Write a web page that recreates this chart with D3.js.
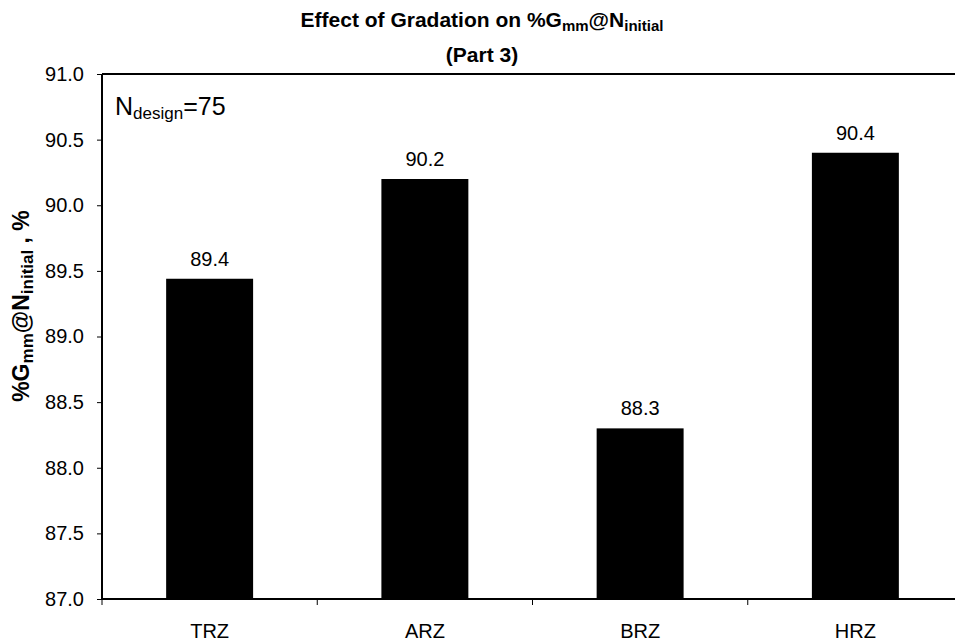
<!DOCTYPE html>
<html>
<head>
<meta charset="utf-8">
<script src="https://cdn.jsdelivr.net/npm/d3@7"></script>
<style>
  body { margin: 0; background: #fff; }
  text { font-family: "Liberation Sans", Arial, sans-serif; }
</style>
</head>
<body>
<div id="chart"></div>
<script>
// gradation categories and %Gmm @ Ninitial values
var categories = ["TRZ", "ARZ", "BRZ", "HRZ"];
var values = [89.44, 90.2, 88.3, 90.4];
var yTicks = [87.0, 87.5, 88.0, 88.5, 89.0, 89.5, 90.0, 90.5, 91.0];

var width = 955, height = 643;
var margin = { top: 74, right: -8, bottom: 44, left: 102 };

var svg = d3.select("#chart")
	.append("svg")
	.attr("width", width)
	.attr("height", height);

var x = d3.scaleBand()
	.domain(categories)
	.range([margin.left, width - margin.right])
	.paddingInner(0.596)
	.paddingOuter(0.298);

var y = d3.scaleLinear()
	.domain([87, 91])
	.range([height - margin.bottom, margin.top]);

var fmt = d3.format(".1f");

// bars
svg.selectAll("rect.bar")
	.data(values)
	.enter()
	.append("rect")
	.attr("class", "bar")
	.attr("x", function(d, i) { return x(categories[i]); })
	.attr("y", function(d) { return y(d); })
	.attr("width", x.bandwidth())
	.attr("height", function(d) { return y(87) - y(d); })
	.attr("fill", "#000");

// value labels
svg.selectAll("text.val")
	.data(values)
	.enter()
	.append("text")
	.attr("class", "val")
	.attr("x", function(d, i) { return x(categories[i]) + x.bandwidth() / 2; })
	.attr("y", function(d) { return y(d) - 13; })
	.attr("text-anchor", "middle")
	.attr("font-size", "20px")
	.text(function(d) { return fmt(d); });

// y axis
var yAxis = svg.append("g")
	.attr("transform", "translate(" + margin.left + ",0)")
	.call(d3.axisLeft(y).tickValues(yTicks).tickFormat(fmt).tickSize(5).tickPadding(13));
yAxis.select(".domain").attr("stroke-width", 2).attr("d", "M0," + y(87) + "V" + y(91));
yAxis.selectAll("text").attr("font-size", "20px").attr("fill", "#000")
	.style("font-family", "'Liberation Sans', Arial, sans-serif");

// x axis, ticks sit between categories
var xAxis = svg.append("g")
	.attr("transform", "translate(0," + y(87) + ")");
xAxis.append("line")
	.attr("x1", margin.left).attr("x2", width - margin.right)
	.attr("stroke", "#000").attr("stroke-width", 2);
var step = x.step();
xAxis.selectAll("line.tick")
	.data(categories)
	.enter()
	.append("line")
	.attr("class", "tick")
	.attr("x1", function(d) { return x(d) + x.bandwidth() / 2 - step / 2; })
	.attr("x2", function(d) { return x(d) + x.bandwidth() / 2 - step / 2; })
	.attr("y1", 0).attr("y2", 6)
	.attr("stroke", "#000");
xAxis.selectAll("text")
	.data(categories)
	.enter()
	.append("text")
	.attr("x", function(d) { return x(d) + x.bandwidth() / 2; })
	.attr("y", 39)
	.attr("text-anchor", "middle")
	.attr("font-size", "20px")
	.text(function(d) { return d; });

// top frame line
svg.append("line")
	.attr("x1", margin.left).attr("x2", width - margin.right)
	.attr("y1", y(91)).attr("y2", y(91))
	.attr("stroke", "#000").attr("stroke-width", 2);

// title
var title = svg.append("text")
	.attr("x", 482).attr("y", 27)
	.attr("text-anchor", "middle")
	.attr("font-size", "21px")
	.attr("font-weight", "bold");
title.append("tspan").text("Effect of Gradation on %G");
title.append("tspan").attr("font-size", "15px").attr("dy", 4).text("mm");
title.append("tspan").attr("dy", -4).text("@N");
title.append("tspan").attr("font-size", "15px").attr("dy", 4).text("initial");
svg.append("text")
	.attr("x", 482).attr("y", 62)
	.attr("text-anchor", "middle")
	.attr("font-size", "21px")
	.attr("font-weight", "bold")
	.text("(Part 3)");

// y axis title
var ytitle = svg.append("text")
	.attr("transform", "translate(29,306) rotate(-90)")
	.attr("text-anchor", "middle")
	.attr("font-size", "23px")
	.attr("font-weight", "bold");
ytitle.append("tspan").text("%G");
ytitle.append("tspan").attr("font-size", "17px").attr("dy", 4).text("mm");
ytitle.append("tspan").attr("dy", -4).text("@N");
ytitle.append("tspan").attr("font-size", "17px").attr("dy", 4).text("initial");
ytitle.append("tspan").attr("dy", -4).text(" , %");

// Ndesign annotation
var note = svg.append("text")
	.attr("x", 115).attr("y", 115)
	.attr("font-size", "25px");
note.append("tspan").text("N");
note.append("tspan").attr("font-size", "17px").attr("dy", 4).text("design");
note.append("tspan").attr("dy", -4).text("=75");
</script>
</body>
</html>
